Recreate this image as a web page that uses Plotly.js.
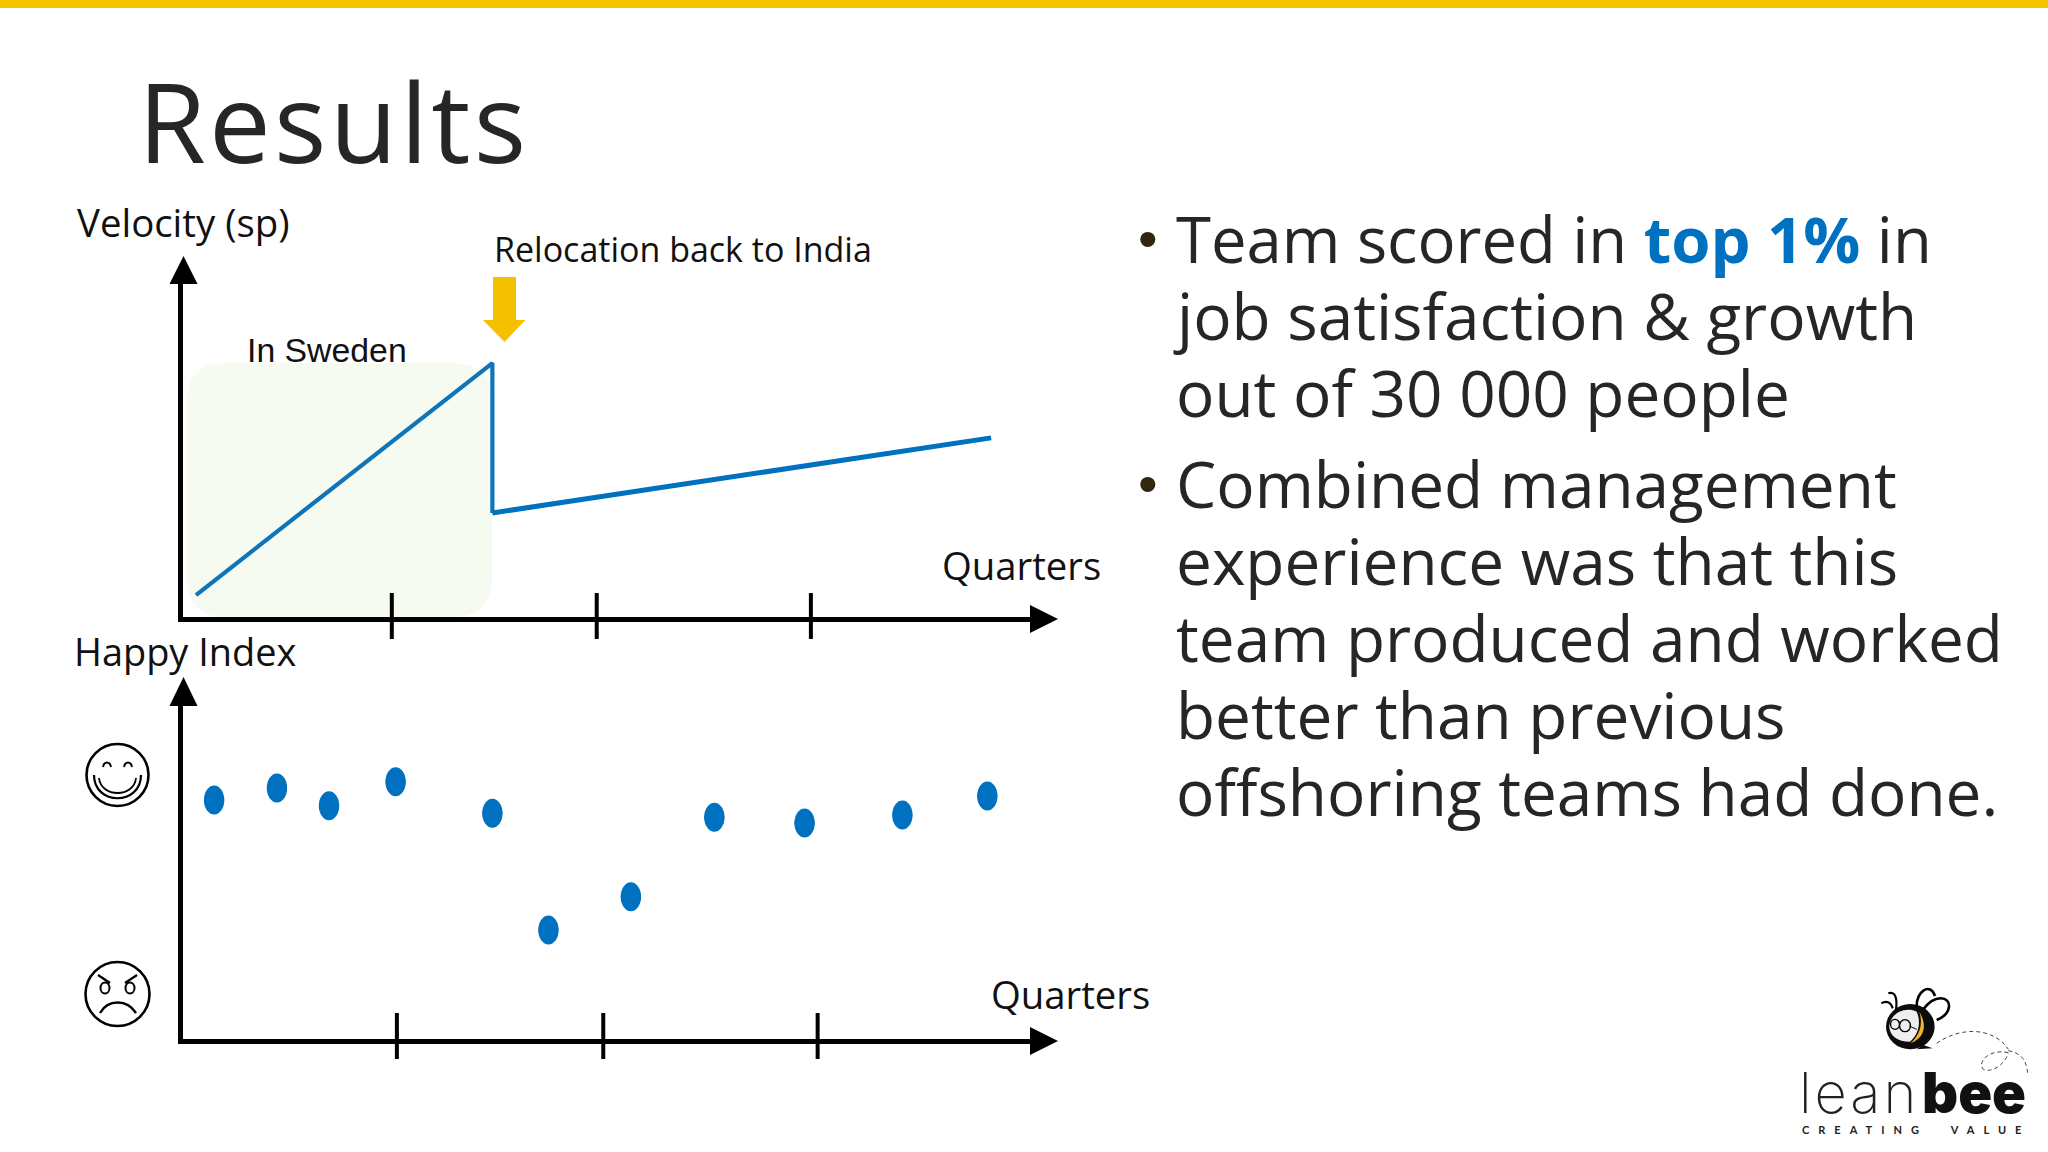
<!DOCTYPE html>
<html><head><meta charset="utf-8">
<script src="https://cdn.plot.ly/plotly-3.0.1.min.js"></script>
<style>html,body{margin:0;padding:0;background:#fff}#c{width:2048px;height:1152px}</style>
</head><body><div id="c"></div>
<script>
// ---- Data (quarters on x, index 0-100 on y) ----
const velocityRiseX = [0.064, 1.47, 1.47];
const velocityRiseY = [6.6, 70.5, 29.2];
const velocityAfterX = [1.47, 3.836];
const velocityAfterY = [29.2, 49.9];
const velocityTicks = [0.993, 1.965, 2.981];
const happyX = [0.150, 0.448, 0.695, 1.011, 1.470, 1.736, 2.127, 2.523, 2.951, 3.415, 3.818];
const happyY = [66.2, 69.5, 64.6, 71.2, 62.6, 30.5, 39.6, 61.5, 59.9, 62.1, 67.3];
const happyTicks = [1.017, 1.996, 3.013];
const bulletOne = ['Team scored in <b><span style="color:#0070C0">top 1%</span></b> in','job satisfaction &amp; growth','out of 30 000 people'];
const bulletTwo = ['Combined management','experience was that this','team produced and worked','better than previous','offshoring teams had done.'];

const W=2048,H=1152;
const px=x=>x/W, py=y=>1-y/H, P=(x,y)=>px(x).toFixed(5)+' '+py(y).toFixed(5);
const pxPerQuarter=210.8, originX=182.5;
const BLUE='#0070C0', INK='#262626', OS='"Open Sans", sans-serif';

const shapes=[], annotations=[];
function paperPath(d,o){shapes.push(Object.assign({type:'path',xref:'paper',yref:'paper',path:d,line:{width:0},layer:'above'},o||{}));}
function note(text,x,y,size,o){annotations.push(Object.assign({text:text,xref:'paper',yref:'paper',x:px(x),y:py(y),xanchor:'left',yanchor:'middle',showarrow:false,borderpad:0,font:{family:OS,size:size,color:'#111'}},o||{}));}

// top bar
shapes.push({type:'rect',xref:'paper',yref:'paper',x0:0,x1:1,y0:py(8),y1:1,fillcolor:'#F5C400',line:{width:0},layer:'below'});

// Sweden band
(function(){const x0=187,x1=492,y0=363,y1=617,r=42;
paperPath('M'+P(x0+r,y0)+' L'+P(x1-r,y0)+' C'+P(x1-12,y0)+' '+P(x1,y0+12)+' '+P(x1,y0+r)+' L'+P(x1,y1-r)+' C'+P(x1,y1-12)+' '+P(x1-12,y1)+' '+P(x1-r,y1)+' L'+P(x0+r,y1)+' C'+P(x0+12,y1)+' '+P(x0,y1-12)+' '+P(x0,y1-r)+' L'+P(x0,y0+r)+' C'+P(x0,y0+12)+' '+P(x0+12,y0)+' '+P(x0+r,y0)+' Z',{fillcolor:'#F5FBF0',layer:'below'});})();

// axis arrow heads
[[619,284,256],[1041,706,677]].forEach(a=>{
  const yAxisY=a[0];
  paperPath('M'+P(1030,yAxisY-14)+' L'+P(1058,yAxisY)+' L'+P(1030,yAxisY+14)+' Z',{fillcolor:'#000'});
  paperPath('M'+P(183.5-14,a[1])+' L'+P(183.5,a[2])+' L'+P(183.5+14,a[1])+' Z',{fillcolor:'#000'});
});

// tick marks through library scales
velocityTicks.forEach(t=>shapes.push({type:'line',xref:'x',yref:'paper',x0:t,x1:t,y0:py(593),y1:py(639),line:{color:'#000',width:4},layer:'above'}));
happyTicks.forEach(t=>shapes.push({type:'line',xref:'x2',yref:'paper',x0:t,x1:t,y0:py(1013),y1:py(1059),line:{color:'#000',width:4},layer:'above'}));

// oval happy points (anchored to the data)
happyX.forEach((x,i)=>shapes.push({type:'circle',xref:'x2',yref:'y2',xsizemode:'pixel',ysizemode:'pixel',xanchor:x,yanchor:happyY[i],x0:-10.2,x1:10.2,y0:-14.5,y1:14.5,fillcolor:BLUE,line:{width:0},layer:'above'}));

// yellow down arrow
paperPath('M'+P(493,277)+' L'+P(516,277)+' L'+P(516,320)+' L'+P(525.5,320)+' L'+P(504.5,342)+' L'+P(483,320)+' L'+P(493,320)+' Z',{fillcolor:'#F5C000'});

// faces
function ring(cx,cy,rx,ry,w){shapes.push({type:'circle',xref:'paper',yref:'paper',x0:px(cx-rx),x1:px(cx+rx),y0:py(cy+ry),y1:py(cy-ry),fillcolor:'rgba(0,0,0,0)',line:{color:'#000',width:w},layer:'above'});}
function stroke(d,w,c,dash){paperPath(d,{line:{color:c||'#000',width:w,dash:dash||'solid'},fillcolor:'rgba(0,0,0,0)'});}
ring(117.5,775,31,31,2.6);
stroke('M'+P(103,767)+' C'+P(104,761)+' '+P(110,761)+' '+P(111,767),2);
stroke('M'+P(124,767)+' C'+P(125,761)+' '+P(131,761)+' '+P(132,767),2);
stroke('M'+P(94,775)+' C'+P(94,806)+' '+P(141,806)+' '+P(141,775),2.2);
stroke('M'+P(99,778)+' C'+P(101,798)+' '+P(134,798)+' '+P(136,778),1.8);
ring(117.5,994,32,32,2.6);
ring(105,988,4.5,5.5,2); ring(130,988,4.5,5.5,2);
stroke('M'+P(98,975)+' L'+P(110,983),2.2);
stroke('M'+P(137,975)+' L'+P(125,983),2.2);
stroke('M'+P(100,1013)+' C'+P(108,999)+' '+P(127,999)+' '+P(136,1013),2.4);

// Logo, coordinates taken from the crop
const Z=(a,b)=>P(1760+a/3,960+b/3);
shapes.push({type:'circle',xref:'paper',yref:'paper',x0:px(1760+378/3),x1:px(1760+524/3),y0:py(960+268/3),y1:py(960+132/3),fillcolor:'#0c0c0c',line:{width:0},layer:'above'});
paperPath('M'+Z(490,255)+' L'+Z(518,265)+' L'+Z(470,268)+' Z',{fillcolor:'#0c0c0c'});
paperPath('M'+Z(470,155)+' C'+Z(440,140)+' '+Z(395,155)+' '+Z(388,195)+' C'+Z(386,225)+' '+Z(410,245)+' '+Z(450,245)+' C'+Z(480,220)+' '+Z(482,180)+' '+Z(470,155)+' Z',{fillcolor:'#eeeeee'});
paperPath('M'+Z(478,155)+' C'+Z(505,200)+' '+Z(490,235)+' '+Z(452,250)+' C'+Z(478,225)+' '+Z(490,195)+' '+Z(478,155)+' Z',{fillcolor:'#F0B429'});
ring(1760+405/3,960+193/3,4.5,5,1.4); ring(1760+435/3,960+197/3,5.5,6,1.4);
stroke('M'+Z(448,198)+' L'+Z(470,208),1);
stroke('M'+Z(470,140)+' C'+Z(468,95)+' '+Z(510,65)+' '+Z(525,108),2.6);
stroke('M'+Z(490,148)+' C'+Z(525,100)+' '+Z(570,110)+' '+Z(567,140)+' C'+Z(565,160)+' '+Z(550,172)+' '+Z(530,180),2.6);
stroke('M'+Z(408,150)+' C'+Z(412,120)+' '+Z(408,92)+' '+Z(385,100),2.2);
stroke('M'+Z(398,145)+' C'+Z(392,125)+' '+Z(378,122)+' '+Z(364,130),2.2);
stroke('M'+Z(530,250)+' C'+Z(600,200)+' '+Z(700,200)+' '+Z(745,268),1,'#444','4px,3px');
stroke('M'+Z(745,272)+' C'+Z(790,280)+' '+Z(802,310)+' '+Z(803,345),1,'#444','4px,3px');
stroke('M'+Z(745,278)+' C'+Z(690,265)+' '+Z(650,305)+' '+Z(670,328)+' C'+Z(700,340)+' '+Z(735,310)+' '+Z(745,280),1,'#444','4px,3px');

// Text
note('<span style="letter-spacing:3.2px">Results</span>',137,120,110,{font:{family:OS,size:110,color:INK}});
note('Velocity (sp)',76,222,38.4);
note('Relocation back to India',493,249,34);
note('In Sweden',246,350,33.8,{font:{family:'"Liberation Sans", Arial, sans-serif',size:33.8,color:'#111'}});
note('Quarters',941,565,38.3);
note('Happy Index',73,651,37.9);
note('Quarters',990,994,38.3);

[[bulletOne,238.5],[bulletTwo,484]].forEach(b=>{
  note('•',1137,b[1],56,{font:{family:'"Liberation Sans", sans-serif',size:56,color:'#33260f'}});
  b[0].forEach((t,i)=>{
    const s=t.indexOf('top 1%')>=0?63.4:63.9;
    const x=t.indexOf('job')===0?1171.5:1175;
    note(t,x,b[1]+i*76.8,s,{font:{family:OS,size:s,color:INK}});
  });
});

// logo text
note('<span style="letter-spacing:3px">lean</span>',1798,1093,56,{font:{family:'Inter, sans-serif',size:56,color:'#222',weight:200}});
note('bee',1921,1093,56,{font:{family:'Inter, sans-serif',size:56,color:'#111',weight:900}});
note('<span style="letter-spacing:9px">CREATING\u00A0\u00A0VALUE</span>',1801,1129,11,{font:{family:'Lato, sans-serif',size:11,color:'#222',weight:700}});

const axisBase={showgrid:false,zeroline:false,showticklabels:false,ticks:'',showline:true,linecolor:'#000',fixedrange:true};
const endX=1030, xRange=[0,(endX-originX)/pxPerQuarter];
const layout={
 width:W,height:H,margin:{l:0,r:0,t:0,b:0},paper_bgcolor:'#fff',plot_bgcolor:'rgba(0,0,0,0)',showlegend:false,
 xaxis:Object.assign({},axisBase,{domain:[px(originX),px(endX)],range:xRange,anchor:'y',linewidth:5.5}),
 yaxis:Object.assign({},axisBase,{domain:[py(616.5),py(284)],range:[(619-616.5)/3.63,(619-284)/3.63],anchor:'x',linewidth:4.5}),
 xaxis2:Object.assign({},axisBase,{domain:[px(originX),px(endX)],range:xRange,anchor:'y2',linewidth:5.5}),
 yaxis2:Object.assign({},axisBase,{domain:[py(1038.5),py(706)],range:[(1041-1038.5)/3.64,(1041-706)/3.64],anchor:'x2',linewidth:4.5}),
 shapes:shapes,annotations:annotations
};
const traces=[
 {type:'scatter',mode:'lines',name:'Velocity in Sweden',x:velocityRiseX,y:velocityRiseY,xaxis:'x',yaxis:'y',line:{color:'#0F75B8',width:4.2}},
 {type:'scatter',mode:'lines',name:'Velocity after relocation',x:velocityAfterX,y:velocityAfterY,xaxis:'x',yaxis:'y',line:{color:'#0070C0',width:5}},
 {type:'scatter',mode:'markers',name:'Happy Index',x:happyX,y:happyY,xaxis:'x2',yaxis:'y2',marker:{color:BLUE,size:20}}
];
Plotly.newPlot('c',traces,layout,{displayModeBar:false,staticPlot:true});
</script></body></html>
